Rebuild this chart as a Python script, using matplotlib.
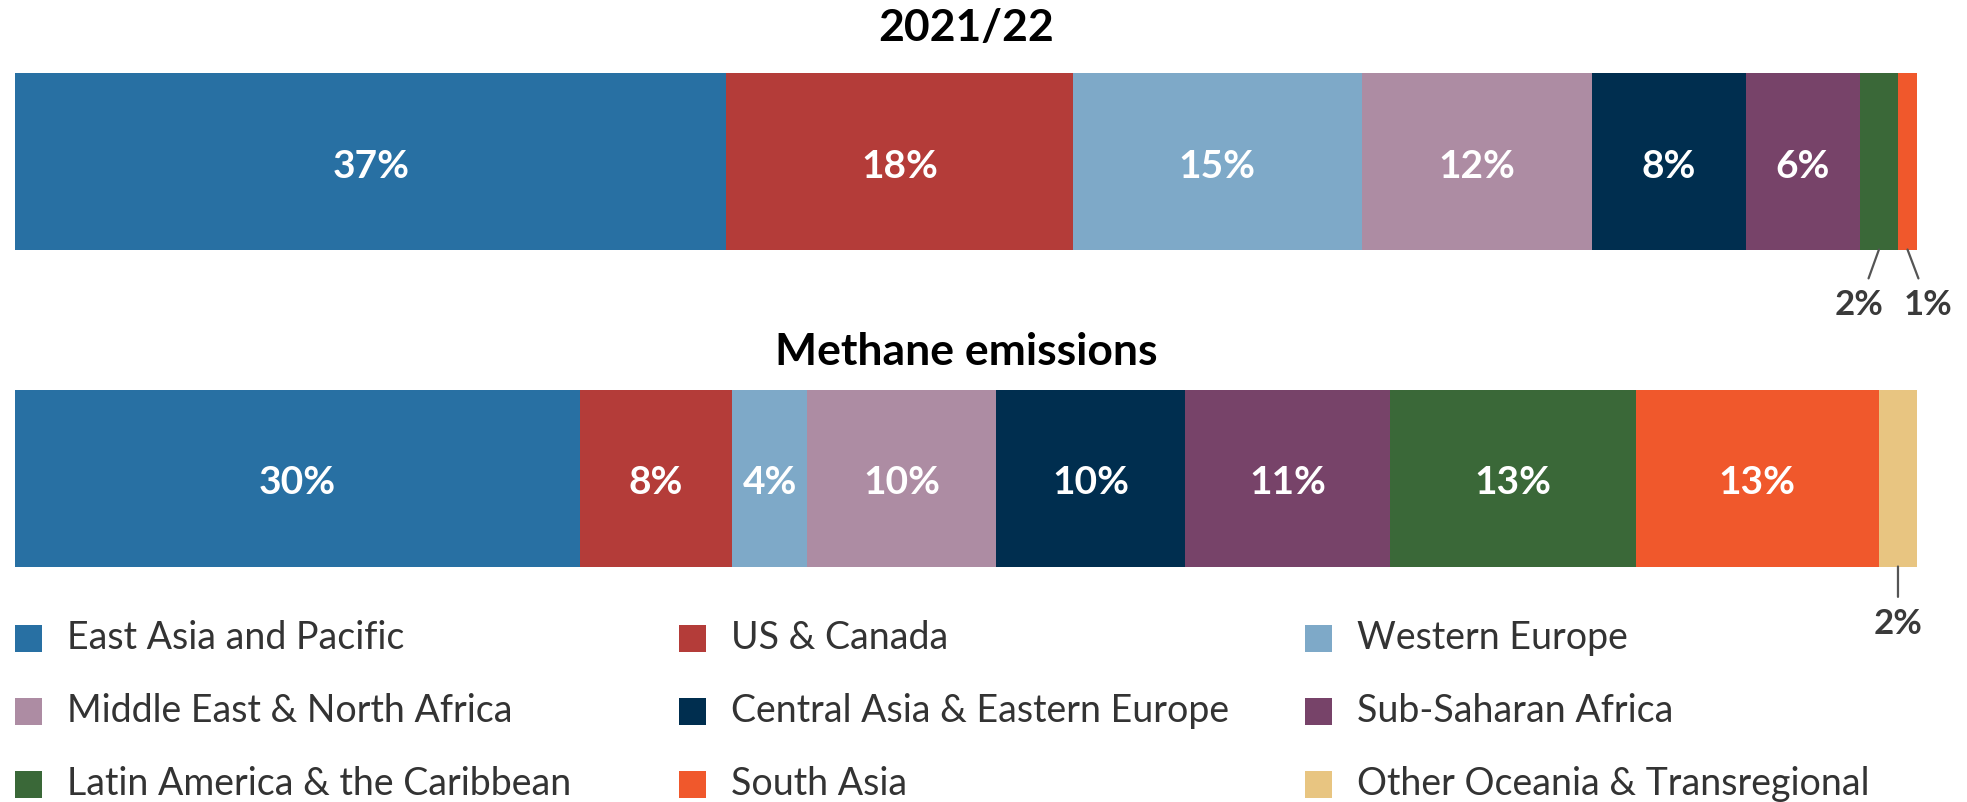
import matplotlib
matplotlib.use("Agg")
import matplotlib.pyplot as plt
from matplotlib.patches import Rectangle

plt.rcParams['font.family'] = ['Lato', 'DejaVu Sans']

regions = ["East Asia and Pacific", "US & Canada", "Western Europe",
           "Middle East & North Africa", "Central Asia & Eastern Europe", "Sub-Saharan Africa",
           "Latin America & the Caribbean", "South Asia", "Other Oceania & Transregional"]
colors = ["#2870A3", "#B43C39", "#7EA9C8",
          "#AD8CA3", "#002E4F", "#774369",
          "#3A6838", "#F0582C", "#E8C581"]

# shares in percent
share_2122 = [37.4, 18.2, 15.2, 12.1, 8.1, 6.0, 2.0, 1.0, 0.0]
share_methane = [29.7, 8.0, 3.95, 9.95, 9.9, 10.8, 12.9, 12.8, 2.0]

titles = ["2021/22", "Methane emissions"]

W, H = 1967, 802
fig = plt.figure(figsize=(W/100, H/100), dpi=100)
ax = fig.add_axes([15/W, 0, 1902/W, 1])
ax.set_xlim(0, 100)
ax.set_ylim(H, 0)
ax.axis('off')

bar_y = [161, 478]
bar_h = 177
title_y = [28, 352]
px = 100/1902  # data units per pixel

def draw_bar(vals, y, title, ty, small):
    left = 0
    for i, v in enumerate(vals):
        if v <= 0:
            continue
        ax.barh(y, v, left=left, height=bar_h, color=colors[i], linewidth=0)
        c = left + v/2
        lab = "%d%%" % round(v)
        if i in small:
            dx, ly = small[i]
            ax.annotate(lab, xy=(c, y + bar_h/2), xytext=(c + dx*px, ly),
                        ha='center', va='center', fontsize=25, fontweight='bold',
                        color='#3a3a3a',
                        arrowprops=dict(arrowstyle='-', color='#555555', lw=1.6,
                                        shrinkA=6, shrinkB=0))
        else:
            ax.text(c, y + 5, lab, ha='center', va='center', fontsize=28,
                    fontweight='bold', color='white')
        left += v
    ax.text(50, ty, title, ha='center', va='center', fontsize=32,
            fontweight='bold', color='black')

draw_bar(share_2122, bar_y[0], titles[0], title_y[0], {6: (-20, 305), 7: (21, 305)})
draw_bar(share_methane, bar_y[1], titles[1], title_y[1], {8: (0, 624)})

# legend, three columns filled row by row
col_x = [15, 679, 1305]
row_y = [638, 711, 784]
sq = 27
for i, name in enumerate(regions):
    x0 = col_x[i % 3]
    y0 = row_y[i // 3]
    fig.patches.append(Rectangle((x0/W, 1 - (y0 + sq/2)/H), sq/W, sq/H,
                                 transform=fig.transFigure, color=colors[i], lw=0))
    fig.text((x0 + 52)/W, 1 - y0/H, name, ha='left', va='center',
             fontsize=27, color='#333333')

fig.savefig("out.png", dpi=100)
